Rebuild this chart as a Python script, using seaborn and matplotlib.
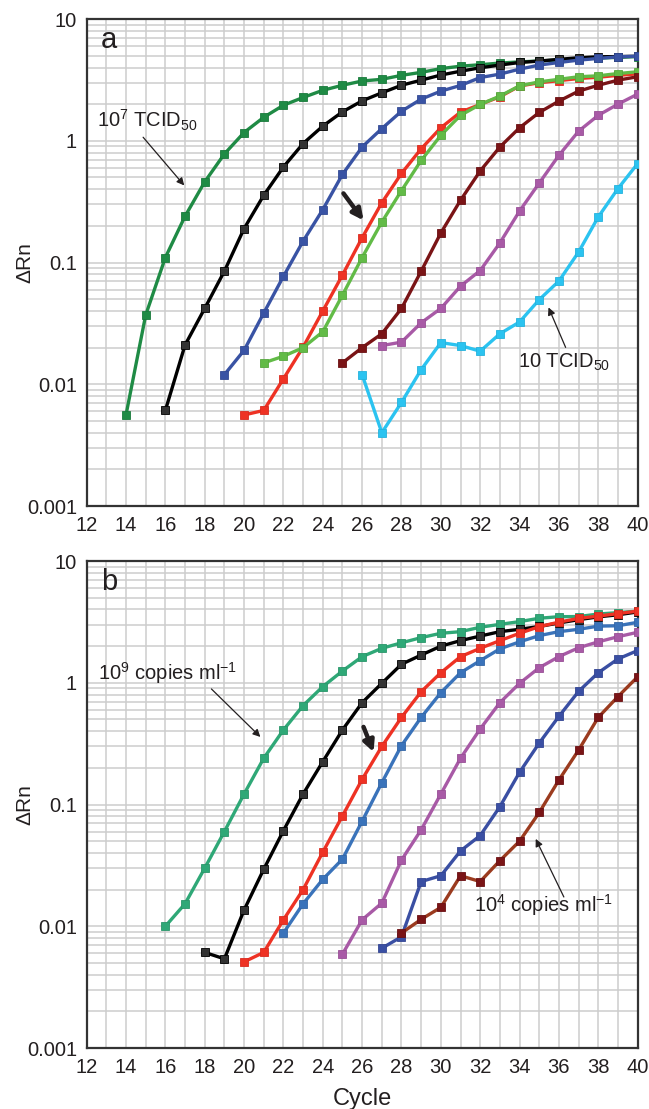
import matplotlib
matplotlib.use("Agg")
import matplotlib.pyplot as plt
from matplotlib.ticker import MultipleLocator, LogLocator, FixedLocator, FixedFormatter, NullFormatter
import seaborn as sns
import pandas as pd

# ---- panel a : TCID50 dilutions ----
a_green_start = 14
a_green = [0.0056, 0.037, 0.11, 0.24, 0.46, 0.78, 1.17, 1.56, 1.96, 2.27, 2.6, 2.86, 3.1, 3.2,
           3.45, 3.65, 3.92, 4.1, 4.22, 4.35, 4.45, 4.52, 4.62, 4.7, 4.78, 4.85, 4.92]
a_black_start = 16
a_black = [0.0061, 0.021, 0.042, 0.085, 0.19, 0.357, 0.61, 0.95, 1.32, 1.73, 2.13, 2.48, 2.86,
           3.15, 3.47, 3.73, 3.98, 4.19, 4.4, 4.52, 4.67, 4.81, 4.9, 4.92, 4.95]
a_blue_start = 19
a_blue = [0.012, 0.019, 0.0385, 0.077, 0.15, 0.272, 0.53, 0.89, 1.26, 1.75, 2.2, 2.56, 2.85,
          3.31, 3.53, 3.88, 4.19, 4.4, 4.6, 4.75, 4.9, 4.95]
a_red_start = 20
a_red = [0.0056, 0.0061, 0.0111, 0.0202, 0.040, 0.079, 0.16, 0.31, 0.54, 0.86, 1.28, 1.72,
         1.99, 2.3, 2.82, 3.0, 3.12, 3.25, 3.33, 3.45, 3.55]
a_lgreen_start = 21
a_lgreen = [0.015, 0.017, 0.020, 0.027, 0.054, 0.11, 0.215, 0.39, 0.69, 1.11, 1.62, 1.99,
            2.33, 2.83, 3.05, 3.2, 3.36, 3.42, 3.57, 3.69]
a_dred_start = 25
a_dred = [0.015, 0.020, 0.026, 0.042, 0.085, 0.175, 0.325, 0.566, 0.89, 1.28, 1.71, 2.12,
          2.56, 2.86, 3.15, 3.36]
a_purple_start = 27
a_purple = [0.0208, 0.0222, 0.032, 0.042, 0.064, 0.086, 0.145, 0.265, 0.45, 0.76, 1.2, 1.62,
            2.0, 2.42]
a_cyan_start = 26
a_cyan = [0.012, 0.0040, 0.0071, 0.0132, 0.022, 0.0208, 0.0187, 0.026, 0.0325, 0.0496,
          0.0705, 0.122, 0.237, 0.405, 0.65]

# ---- panel b : copies per ml ----
b_teal_start = 16
b_teal = [0.010, 0.0153, 0.030, 0.060, 0.122, 0.24, 0.41, 0.65, 0.93, 1.25, 1.64, 1.92, 2.13,
          2.35, 2.55, 2.63, 2.86, 3.02, 3.18, 3.39, 3.49, 3.5, 3.67, 3.77, 3.88]
b_black_start = 18
b_black = [0.0061, 0.0054, 0.0136, 0.0294, 0.061, 0.122, 0.225, 0.41, 0.687, 0.99, 1.42, 1.69,
           2.0, 2.22, 2.42, 2.63, 2.75, 2.9, 3.1, 3.3, 3.48, 3.62, 3.82]
b_red_start = 20
b_red = [0.0051, 0.0061, 0.0113, 0.020, 0.0406, 0.0806, 0.161, 0.30, 0.52, 0.845, 1.21, 1.64,
         1.92, 2.22, 2.55, 2.89, 3.15, 3.38, 3.53, 3.7, 3.88]
b_blue_start = 22
b_blue = [0.0088, 0.0153, 0.0243, 0.0356, 0.073, 0.151, 0.305, 0.52, 0.83, 1.21, 1.52, 1.9,
          2.17, 2.44, 2.63, 2.75, 2.92, 2.94, 3.14]
b_purple_start = 25
b_purple = [0.0059, 0.0113, 0.0155, 0.035, 0.062, 0.122, 0.24, 0.418, 0.687, 0.99, 1.33, 1.64,
            1.94, 2.17, 2.39, 2.6]
b_dblue_start = 27
b_dblue = [0.0066, 0.0082, 0.0233, 0.026, 0.0416, 0.0556, 0.096, 0.184, 0.32, 0.53, 0.85,
           1.21, 1.57, 1.84]
b_brown_start = 28
b_brown = [0.0088, 0.0114, 0.0143, 0.026, 0.0233, 0.0346, 0.050, 0.086, 0.159, 0.28, 0.52,
           0.77, 1.12]

x_ticks = list(range(12, 41, 2))
y_ticks = [0.001, 0.01, 0.1, 1, 10]
y_tick_labels = ["0.001", "0.01", "0.1", "1", "10"]

sns.set_style("white")
plt.rcParams["font.family"] = ["Liberation Sans", "DejaVu Sans"]
plt.rcParams["mathtext.fontset"] = "custom"
plt.rcParams["mathtext.rm"] = "Liberation Sans"
plt.rcParams["mathtext.default"] = "regular"

TXT = "#231f20"

# (start, values, line colour, marker face, marker edge)
series_a = [
    (a_green_start, a_green, "#1f8b45", "#1f8b45", "#1a7a3c"),
    (a_black_start, a_black, "#000000", "#333333", "#000000"),
    (a_blue_start, a_blue, "#3953a4", "#3953a4", "#334a94"),
    (a_red_start, a_red, "#ee3224", "#ee3224", "#d92b1f"),
    (a_lgreen_start, a_lgreen, "#62bb47", "#62bb47", "#56a83e"),
    (a_dred_start, a_dred, "#7a1416", "#7a1416", "#6a1012"),
    (a_purple_start, a_purple, "#a85aa6", "#a85aa6", "#984f96"),
    (a_cyan_start, a_cyan, "#2bc3f0", "#2bc3f0", "#25b2dc"),
]
series_b = [
    (b_teal_start, b_teal, "#2fa877", "#2fa877", "#2a966a"),
    (b_black_start, b_black, "#000000", "#333333", "#000000"),
    (b_blue_start, b_blue, "#3a73ba", "#3a73ba", "#3366a6"),
    (b_red_start, b_red, "#ee3224", "#ee3224", "#d92b1f"),
    (b_purple_start, b_purple, "#a85aa6", "#a85aa6", "#984f96"),
    (b_dblue_start, b_dblue, "#3a4fa3", "#3a4fa3", "#334592"),
    (b_brown_start, b_brown, "#9b3b1f", "#7a1416", "#6a1012"),
]

fig = plt.figure(figsize=(6.49, 11.09), dpi=100)
ax_a = fig.add_axes([0.1335, 0.5437, 0.849, 0.4391])
ax_b = fig.add_axes([0.1335, 0.0550, 0.849, 0.4391])


def draw_panel(ax, series):
    for i, (start, vals, lc, mfc, mec) in enumerate(series):
        df = pd.DataFrame({"cycle": list(range(start, start + len(vals))), "drn": vals})
        sns.lineplot(data=df, x="cycle", y="drn", ax=ax, color=lc, linewidth=2.4,
                     marker="s", markersize=5.5, markerfacecolor=mfc,
                     markeredgecolor=mec, markeredgewidth=0.6, zorder=3 + i)
    ax.set_yscale("log")
    ax.set_xlim(12, 40)
    ax.set_ylim(0.001, 10)
    ax.xaxis.set_major_locator(FixedLocator(x_ticks))
    ax.xaxis.set_minor_locator(MultipleLocator(1))
    ax.yaxis.set_major_locator(FixedLocator(y_ticks))
    ax.yaxis.set_major_formatter(FixedFormatter(y_tick_labels))
    ax.yaxis.set_minor_locator(LogLocator(base=10, subs=range(2, 10)))
    ax.yaxis.set_minor_formatter(NullFormatter())
    ax.grid(which="both", color="#cdcdcd", linewidth=1.1, zorder=0)
    ax.set_axisbelow(True)
    ax.tick_params(axis="both", which="major", direction="out", length=5, width=1.2,
                   color="#333333", labelsize=14.5, labelcolor=TXT, pad=2)
    ax.tick_params(axis="x", which="minor", direction="out", length=5, width=1.0,
                   color="#333333")
    ax.tick_params(axis="y", which="minor", length=0)
    for s in ax.spines.values():
        s.set_color("#333333")
        s.set_linewidth(1.6)
    ax.set_ylabel("\u0394Rn", fontsize=15, color=TXT)
    ax.yaxis.set_label_coords(-0.094, 0.5)
    ax.set_xlabel("")


draw_panel(ax_a, series_a)
draw_panel(ax_b, series_b)

thin = dict(arrowstyle="-|>", lw=0.9, color=TXT, mutation_scale=11, shrinkA=0, shrinkB=0)
bold = dict(arrowstyle="-|>", lw=3.2, color=TXT, mutation_scale=16, shrinkA=0, shrinkB=0)

# panel a labels
ax_a.text(0.026, 0.985, "a", transform=ax_a.transAxes, fontsize=21, color=TXT,
          ha="left", va="top")
ax_a.text(12.55, 1.47, "$10^7$ TCID$_{50}$", fontsize=14.5, color=TXT, ha="left", va="center")
ax_a.annotate("", xy=(16.96, 0.43), xytext=(14.87, 1.07), arrowprops=thin)
ax_a.annotate("", xy=(26.07, 0.222), xytext=(25.05, 0.37), arrowprops=bold)
ax_a.text(33.9, 0.0151, "10 TCID$_{50}$", fontsize=14.5, color=TXT, ha="left", va="center")
ax_a.annotate("", xy=(35.47, 0.0428), xytext=(36.34, 0.0201), arrowprops=thin)

# panel b labels
ax_b.text(0.026, 0.985, "b", transform=ax_b.transAxes, fontsize=21, color=TXT,
          ha="left", va="top")
ax_b.text(12.6, 1.2, "$10^9$ copies ml$^{-1}$", fontsize=14.5, color=TXT, ha="left",
          va="center")
ax_b.annotate("", xy=(20.83, 0.359), xytext=(18.34, 0.89), arrowprops=thin)
ax_b.annotate("", xy=(26.58, 0.27), xytext=(26.07, 0.434), arrowprops=bold)
ax_b.text(31.7, 0.015, "$10^4$ copies ml$^{-1}$", fontsize=14.5, color=TXT, ha="left",
          va="center")
ax_b.annotate("", xy=(34.82, 0.0522), xytext=(36.25, 0.0174), arrowprops=thin)

ax_b.set_xlabel("Cycle", fontsize=17, color=TXT, labelpad=8)

fig.savefig("out.png", dpi=100)
